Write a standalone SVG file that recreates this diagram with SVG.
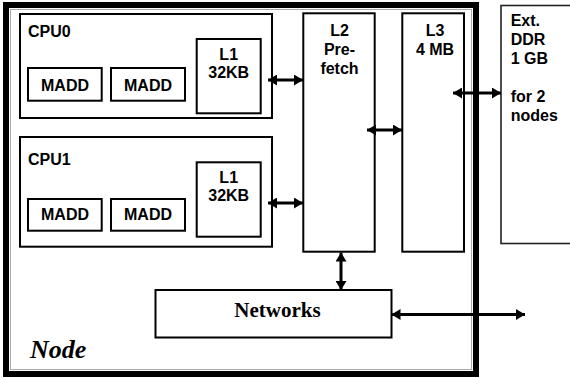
<svg xmlns="http://www.w3.org/2000/svg" width="570" height="378" viewBox="0 0 570 378">
<style>
.box{fill:#fff;stroke:#000;stroke-width:2}
.t{font-family:"Liberation Sans",Arial,sans-serif;font-weight:bold;font-size:16px;fill:#000}
.c{text-anchor:middle}
.conn{stroke:#000;stroke-width:3;fill:none;marker-start:url(#ah);marker-end:url(#ah)}
</style>
<defs>
<marker id="ah" markerUnits="userSpaceOnUse" markerWidth="10" markerHeight="11" refX="9" refY="5.5" orient="auto-start-reverse" viewBox="0 0 10 11">
<path d="M0,0 L9,5.5 L0,11 Z" fill="#000"/>
</marker>
</defs>
<rect width="570" height="378" fill="#fff"/>
<g id="node">
<rect x="6" y="5" width="470" height="369" fill="none" stroke="#000" stroke-width="6"/>
<rect x="10.5" y="9.5" width="461" height="360" fill="none" stroke="#aaa" stroke-width="1"/>
<text x="30" y="358" style="font-family:'Liberation Serif','Times New Roman',serif;font-weight:bold;font-style:italic;font-size:26px">Node</text>
</g>
<g id="cpu0">
<rect class="box" x="20" y="14" width="252" height="104"/>
<text class="t" x="28" y="36.7">CPU0</text>
</g>
<g id="cpu0-madd1"><rect class="box" x="28" y="68" width="73.7" height="32.7"/><text class="t c" x="65" y="90.7">MADD</text></g>
<g id="cpu0-madd2"><rect class="box" x="111" y="68" width="74" height="32.7"/><text class="t c" x="148" y="90.7">MADD</text></g>
<g id="cpu0-l1"><rect class="box" x="196.7" y="39" width="64" height="74.3"/><text class="t c" x="228.7" y="60">L1</text><text class="t c" x="228.7" y="78.3">32KB</text></g>
<g id="cpu1">
<rect class="box" x="20" y="137" width="252" height="109.7"/>
<text class="t" x="28" y="165">CPU1</text>
</g>
<g id="cpu1-madd1"><rect class="box" x="28" y="199" width="73.7" height="31.7"/><text class="t c" x="65" y="220">MADD</text></g>
<g id="cpu1-madd2"><rect class="box" x="111" y="199" width="74" height="31.7"/><text class="t c" x="148" y="220">MADD</text></g>
<g id="cpu1-l1"><rect class="box" x="196.7" y="162.3" width="64" height="74.4"/><text class="t c" x="228.7" y="182.7">L1</text><text class="t c" x="228.7" y="201">32KB</text></g>
<g id="l2"><rect class="box" x="303.3" y="13.3" width="71.4" height="238.4"/><text class="t c" x="339.5" y="36">L2</text><text class="t c" x="339.5" y="55">Pre-</text><text class="t c" x="339.5" y="74">fetch</text></g>
<g id="l3"><rect class="box" x="402.3" y="13.3" width="61.7" height="238.4"/><text class="t c" x="435" y="36">L3</text><text class="t c" x="435" y="55">4 MB</text></g>
<g id="ddr"><rect x="501" y="5.5" width="90" height="238" fill="#fff" stroke="#222" stroke-width="1.6"/>
<text class="t" x="510.7" y="26">Ext.</text><text class="t" x="510.7" y="45">DDR</text><text class="t" x="510.7" y="64">1 GB</text><text class="t" x="510.7" y="102">for 2</text><text class="t" x="510.7" y="121">nodes</text></g>
<g id="networks"><rect class="box" x="155.5" y="290" width="236" height="47.5"/>
<text x="277.5" y="316.7" text-anchor="middle" style="font-family:'Liberation Serif','Times New Roman',serif;font-weight:bold;font-size:21px">Networks</text></g>
<g id="connectors">
<line class="conn" x1="268" y1="80" x2="303" y2="80"/>
<line class="conn" x1="268" y1="203" x2="303" y2="203"/>
<line class="conn" x1="367" y1="130" x2="402" y2="130"/>
<line class="conn" x1="453" y1="93" x2="501" y2="93"/>
<line class="conn" x1="341" y1="252.5" x2="341" y2="290"/>
<line class="conn" x1="391.5" y1="314.5" x2="525" y2="314.5"/>
</g>
</svg>
